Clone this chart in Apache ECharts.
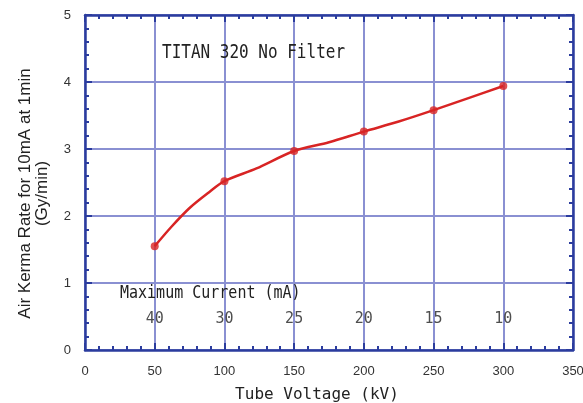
<!DOCTYPE html>
<html>
<head>
    <meta http-equiv="Content-Type" content="text/html; charset=utf-8" />
    <title>TITAN 320 No Filter</title>
    <style type="text/css">
    body,
    html {
        width: 100%;
        height: 100%;
        margin: 0;
        overflow: hidden;
        background: #fff;
    }

    #container {
        width: 583px;
        height: 403px;
    }
    </style>
</head>
<body>
    <div id="container"></div>
</body>
<script src="https://cdn.jsdelivr.net/npm/echarts@6/dist/echarts.min.js"></script>
<script>
// measured points (kV, Gy/min)
var voltages = [50, 100, 150, 200, 250, 300];
var rates = [1.55, 2.52, 2.97, 3.26, 3.58, 3.94];
// max tube current at each voltage (mA)
var currents = [40, 30, 25, 20, 15, 10];
// fitted curve
var curveKv = [50, 62, 75, 88, 100, 123, 150, 175, 200, 225, 250, 275, 300];
var curveRate = [1.55, 1.84, 2.12, 2.34, 2.52, 2.71, 2.97, 3.10, 3.26, 3.41, 3.58, 3.76, 3.94];
var xTicks = [0, 50, 100, 150, 200, 250, 300, 350];
var yTicks = [0, 1, 2, 3, 4, 5];

var mono = 'DejaVu Sans Mono';
var tickFont = 'Liberation Sans';
var axisBlue = '#2b3c9e';
var gridBlue = '#8a90d2';
var red = '#d82424';

var chart = echarts.init(document.getElementById('container'));

function axisX(pos, show) {
    return {
        type: 'value',
        position: pos,
        min: xTicks[0],
        max: xTicks[xTicks.length - 1],
        interval: 50,
        axisLine: { show: true, onZero: false, lineStyle: { color: axisBlue, width: 2.5 } },
        axisTick: { show: true, inside: true, length: 7, lineStyle: { color: axisBlue, width: 2 } },
        minorTick: { show: true, splitNumber: 5, length: 4, lineStyle: { color: axisBlue, width: 2 } },
        splitLine: { show: show, lineStyle: { color: gridBlue, width: 2 } },
        axisLabel: { show: show, margin: 15, color: '#333', fontFamily: tickFont, fontSize: 13 }
    };
}

function axisY(pos, show) {
    return {
        type: 'value',
        position: pos,
        min: yTicks[0],
        max: yTicks[yTicks.length - 1],
        interval: 1,
        axisLine: { show: true, onZero: false, lineStyle: { color: axisBlue, width: 2.5 } },
        axisTick: { show: true, inside: true, length: 7, lineStyle: { color: axisBlue, width: 2 } },
        minorTick: { show: true, splitNumber: 5, length: 4, lineStyle: { color: axisBlue, width: 2 } },
        splitLine: { show: show, lineStyle: { color: gridBlue, width: 2 } },
        axisLabel: { show: show, margin: 14, color: '#333', fontFamily: tickFont, fontSize: 13 }
    };
}

var xBottom = axisX('bottom', true);
xBottom.name = 'Tube Voltage (kV)';
xBottom.nameLocation = 'middle';
xBottom.nameGap = 37;
xBottom.nameTextStyle = { fontFamily: mono, fontSize: 16, color: '#222', padding: [0, 24, 0, 0] };

var yLeft = axisY('left', true);
yLeft.name = 'Air Kerma Rate for 10mA at 1min\n(Gy/min)';
yLeft.nameLocation = 'middle';
yLeft.nameGap = 34;
yLeft.nameTextStyle = { fontFamily: 'Liberation Sans', fontSize: 17, color: '#222', lineHeight: 17, padding: [0, 0, 0, -22] };

var option = {
    backgroundColor: '#fff',
    animation: false,
    graphic: [{
        type: 'text',
        left: 162,
        top: 43,
        z: 100,
        scaleY: 1.2,
        style: { text: 'TITAN 320 No Filter', font: '16px "DejaVu Sans Mono"', fill: '#222' }
    }, {
        type: 'text',
        left: 120,
        top: 284,
        z: 100,
        scaleY: 1.2,
        style: { text: 'Maximum Current (mA)', font: '15px "DejaVu Sans Mono"', fill: '#222' }
    }],
    grid: { left: 85, right: 10, top: 15, bottom: 53, outerBoundsMode: 'none' },
    xAxis: [xBottom, axisX('top', false)],
    yAxis: [yLeft, axisY('right', false)],
    series: [{
        name: 'curve',
        type: 'line',
        smooth: 0.3,
        symbol: 'none',
        data: curveKv.map(function (v, i) { return [v, curveRate[i]]; }),
        lineStyle: { color: red, width: 2.5 }
    }, {
        name: 'measured',
        type: 'scatter',
        symbolSize: 8,
        data: voltages.map(function (v, i) { return [v, rates[i]]; }),
        itemStyle: { color: red }
    }, {
        name: 'current',
        type: 'scatter',
        symbolSize: 0,
        silent: true,
        data: voltages.map(function (v, i) { return [v, 0.5, currents[i]]; }),
        label: {
            show: true,
            position: 'inside',
            offset: [0, 3],
            formatter: function (p) { return p.value[2]; },
            fontFamily: mono,
            fontSize: 15,
            color: '#222'
        }
    }]
};

chart.setOption(option);
</script>
</html>
